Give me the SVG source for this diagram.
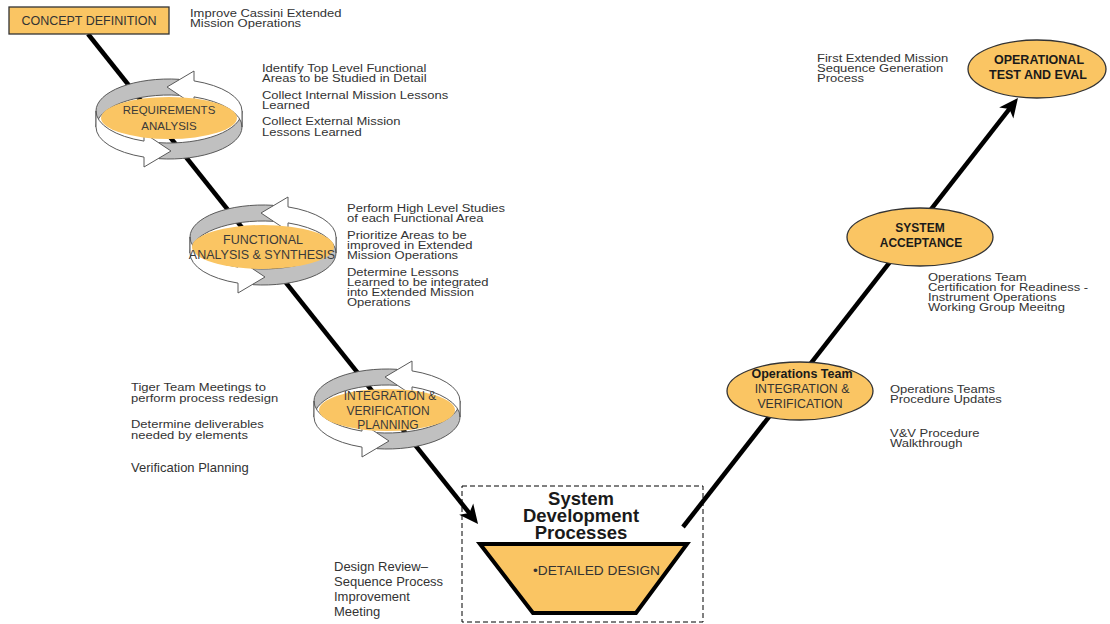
<svg xmlns="http://www.w3.org/2000/svg" width="1110" height="624" viewBox="0 0 1110 624">
<style>
text{font-family:"Liberation Sans",Arial,sans-serif;fill:#333}
.d{font-size:13px}
.m{text-anchor:middle}
.b{font-weight:bold;fill:#1a1a1a}
.cy{fill:#3a3a3a}
.conn{stroke:#000;stroke-width:4.5;fill:none}
.or{fill:#FAC563}
.node{fill:#FAC563;stroke:#333;stroke-width:1.3}
.gray{fill:#C0C0C0;stroke:#5a5a5a;stroke-width:1}
.white{fill:#fff;stroke:#5a5a5a;stroke-width:1}
</style>
<defs>
<marker id="ah" markerUnits="userSpaceOnUse" markerWidth="40" markerHeight="40" viewBox="-20 -20 40 40" refX="0" refY="0" orient="auto" overflow="visible">
<path d="M10,0 L-9,-9 L-4,0 L-9,9 Z" fill="#000"/>
</marker>
<g id="ring">
<path class="gray" d="M-73,-8 A73 32 0 0 1 10,-39.7 L10,-23.7 A73 32 0 0 0 -73,8 Z"/>
<path class="gray" d="M73,-8 L73,8 A73 32 0 0 1 -10,39.7 L-10,23.7 A73 32 0 0 0 73,-8 Z"/>
<path class="white" d="M25,-38.1 A73 32 0 0 1 73,-8 L73,8 A73 32 0 0 0 25,-22.1 L25,-14 L-2,-32 L25,-48 Z"/>
<path class="white" d="M-25,38.1 A73 32 0 0 1 -73,8 L-73,-8 A73 32 0 0 0 -25,22.1 L-25,14 L2,32 L-25,48 Z"/>
</g>
</defs>
<rect width="1110" height="624" fill="#fff"/>

<g id="connectors">
<path class="conn" d="M88,34 L471.8,516.2" marker-end="url(#ah)"/>
<path class="conn" d="M683,527 L1011.8,105.9" marker-end="url(#ah)"/>
</g>

<g id="concept">
<rect x="9" y="7" width="160" height="27" class="node" stroke="#222"/>
<text x="89" y="25" class="m" font-size="12.5">CONCEPT DEFINITION</text>
</g>
<g id="concept-notes">
<text class="d" transform="translate(190,17) scale(1,0.85)"><tspan x="0" y="0">Improve Cassini Extended</tspan><tspan x="0" y="11.76">Mission Operations</tspan></text>
</g>

<g id="requirements">
<use href="#ring" transform="translate(169,119)"/>
<ellipse cx="169" cy="118" rx="68" ry="21" class="or"/>
<text x="169" y="114" class="m cy" font-size="11.5">REQUIREMENTS<tspan x="169" dy="16">ANALYSIS</tspan></text>
</g>
<g id="requirements-notes">
<text class="d" transform="translate(262,72) scale(1,0.85)"><tspan x="0" y="0">Identify Top Level Functional</tspan><tspan x="0" y="11.76">Areas to be Studied in Detail</tspan></text>
<text class="d" transform="translate(262,99) scale(1,0.85)"><tspan x="0" y="0">Collect Internal  Mission Lessons</tspan><tspan x="0" y="11.76">Learned</tspan></text>
<text class="d" transform="translate(262,125) scale(1,0.85)"><tspan x="0" y="0">Collect External  Mission</tspan><tspan x="0" y="12.6">Lessons Learned</tspan></text>
</g>

<g id="functional">
<use href="#ring" transform="translate(263,245)"/>
<ellipse cx="263" cy="247" rx="71" ry="22" class="or"/>
<text x="263" y="244" class="m cy" font-size="12.5">FUNCTIONAL<tspan x="262" dy="15">ANALYSIS &amp; SYNTHESIS</tspan></text>
</g>
<g id="functional-notes">
<text class="d" transform="translate(347,212) scale(1,0.85)"><tspan x="0" y="0">Perform High Level Studies</tspan><tspan x="0" y="11.76">of each Functional Area</tspan></text>
<text class="d" transform="translate(347,239) scale(1,0.85)"><tspan x="0" y="0">Prioritize Areas to be</tspan><tspan x="0" y="11.76">improved in Extended</tspan><tspan x="0" y="23.53">Mission Operations</tspan></text>
<text class="d" transform="translate(347,276) scale(1,0.85)"><tspan x="0" y="0">Determine Lessons</tspan><tspan x="0" y="11.76">Learned to be integrated</tspan><tspan x="0" y="23.53">into Extended Mission</tspan><tspan x="0" y="35.29">Operations</tspan></text>
</g>

<g id="integration">
<use href="#ring" transform="translate(387,409)"/>
<ellipse cx="387" cy="410" rx="68" ry="21" class="or"/>
<text x="390" y="400" class="m cy" font-size="12">INTEGRATION &amp;<tspan x="388" dy="15">VERIFICATION</tspan><tspan x="388" dy="14">PLANNING</tspan></text>
</g>
<g id="integration-notes">
<text class="d" transform="translate(131,391) scale(1,0.85)"><tspan x="0" y="0">Tiger Team Meetings to</tspan><tspan x="0" y="12.94">perform process redesign</tspan></text>
<text class="d" transform="translate(131,428) scale(1,0.85)"><tspan x="0" y="0">Determine deliverables</tspan><tspan x="0" y="12.94">needed by elements</tspan></text>
<text class="d" x="131" y="472">Verification Planning</text>
</g>

<g id="system-development">
<rect x="462" y="486" width="241" height="136" fill="none" stroke="#000" stroke-width="1" stroke-dasharray="5,3"/>
<text x="581" y="505" class="m b" font-size="18.5">System<tspan x="581" dy="17">Development</tspan><tspan x="581" dy="17">Processes</tspan></text>
<polygon points="480,544 687,544 636,613 533,613" fill="#FAC563" stroke="#000" stroke-width="4"/>
<text x="533" y="575" font-size="13.7">•DETAILED DESIGN</text>
</g>
<g id="design-notes">
<text class="d" x="334" y="571">Design Review–<tspan x="334" dy="15">Sequence Process</tspan><tspan x="334" dy="15">Improvement</tspan><tspan x="334" dy="15">Meeting</tspan></text>
</g>

<g id="ops-integration">
<ellipse cx="800" cy="391" rx="73" ry="29" class="node"/>
<text x="802" y="378" class="m b" font-size="12.5">Operations Team</text>
<text x="802" y="393" class="m" font-size="12.3">INTEGRATION &amp;<tspan x="800" dy="15">VERIFICATION</tspan></text>
</g>
<g id="ops-notes">
<text class="d" transform="translate(890,393) scale(1,0.85)"><tspan x="0" y="0">Operations Teams</tspan><tspan x="0" y="11.76">Procedure Updates</tspan></text>
<text class="d" transform="translate(890,437) scale(1,0.85)"><tspan x="0" y="0">V&amp;V Procedure</tspan><tspan x="0" y="11.76">Walkthrough</tspan></text>
</g>

<g id="system-acceptance">
<ellipse cx="920" cy="237" rx="73" ry="29" class="node"/>
<text x="920" y="232" class="m b" font-size="12">SYSTEM<tspan x="921" dy="15">ACCEPTANCE</tspan></text>
</g>
<g id="acceptance-notes">
<text class="d" transform="translate(928,281) scale(1,0.85)"><tspan x="0" y="0">Operations Team</tspan><tspan x="0" y="11.76">Certification for Readiness -</tspan><tspan x="0" y="23.53">Instrument Operations</tspan><tspan x="0" y="35.29">Working Group Meeitng</tspan></text>
</g>

<g id="operational-test">
<ellipse cx="1037" cy="69" rx="69" ry="29" class="node"/>
<text x="1039" y="64" class="m b" font-size="12.5">OPERATIONAL<tspan x="1038" dy="15">TEST AND EVAL</tspan></text>
</g>
<g id="operational-notes">
<text class="d" transform="translate(817,62) scale(1,0.85)"><tspan x="0" y="0">First Extended Mission</tspan><tspan x="0" y="11.76">Sequence Generation</tspan><tspan x="0" y="23.53">Process</tspan></text>
</g>
</svg>
